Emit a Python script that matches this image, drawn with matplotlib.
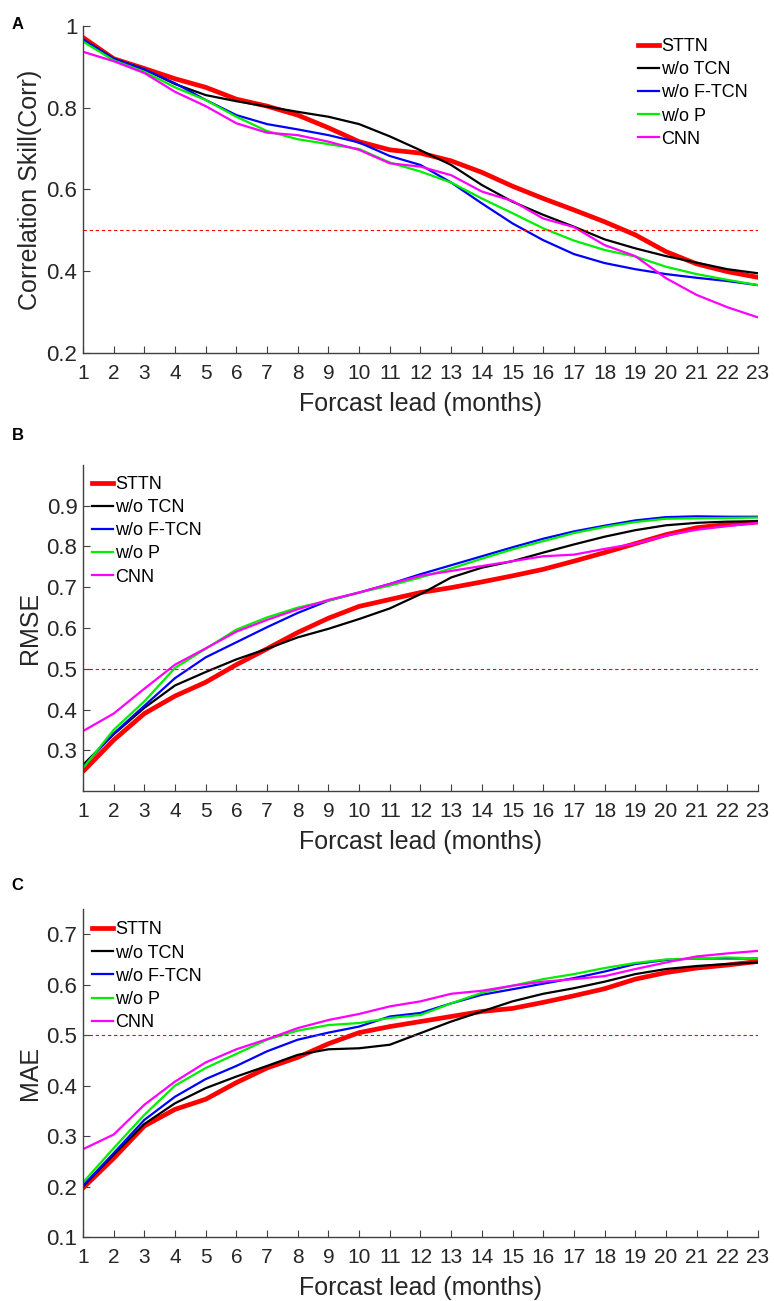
import matplotlib
matplotlib.use("Agg")
import matplotlib.pyplot as plt
import numpy as np

plt.rcParams['font.family'] = ['Liberation Sans', 'DejaVu Sans']

# forecast lead (months)
leads = list(range(1, 24))
names = ["STTN", "w/o TCN", "w/o F-TCN", "w/o P", "CNN"]
colors = ["#ff0000", "#000000", "#0000ff", "#00ee00", "#ff00ff"]
widths = [3.4, 1.6, 1.6, 1.6, 1.6]

# panel A: correlation skill
corr_sttn = [0.972, 0.920, 0.896, 0.871, 0.850, 0.821, 0.804, 0.782, 0.751, 0.717, 0.697,
             0.689, 0.670, 0.642, 0.608, 0.578, 0.550, 0.521, 0.489, 0.448, 0.418, 0.399, 0.385]
corr_tcn = [0.967, 0.920, 0.894, 0.858, 0.831, 0.816, 0.803, 0.790, 0.778, 0.760, 0.730,
            0.696, 0.660, 0.611, 0.570, 0.538, 0.509, 0.478, 0.456, 0.437, 0.421, 0.405, 0.395]
corr_ftcn = [0.967, 0.920, 0.894, 0.860, 0.819, 0.782, 0.760, 0.747, 0.733, 0.715, 0.682,
             0.660, 0.617, 0.566, 0.517, 0.476, 0.442, 0.420, 0.405, 0.393, 0.384, 0.376, 0.366]
corr_p = [0.962, 0.916, 0.888, 0.850, 0.819, 0.778, 0.743, 0.723, 0.711, 0.699, 0.666,
          0.644, 0.617, 0.578, 0.542, 0.505, 0.475, 0.452, 0.436, 0.411, 0.393, 0.379, 0.366]
corr_cnn = [0.937, 0.914, 0.885, 0.839, 0.804, 0.762, 0.739, 0.733, 0.717, 0.697, 0.664,
            0.656, 0.635, 0.595, 0.572, 0.529, 0.508, 0.464, 0.437, 0.383, 0.342, 0.312, 0.287]

# panel B: RMSE
rmse_sttn = [0.248, 0.325, 0.390, 0.433, 0.467, 0.510, 0.549, 0.589, 0.624, 0.653, 0.670,
             0.687, 0.699, 0.713, 0.728, 0.744, 0.764, 0.785, 0.807, 0.829, 0.846, 0.854, 0.860]
rmse_tcn = [0.264, 0.339, 0.404, 0.459, 0.492, 0.523, 0.549, 0.577, 0.598, 0.622, 0.648,
            0.683, 0.724, 0.748, 0.764, 0.785, 0.805, 0.824, 0.840, 0.852, 0.858, 0.861, 0.862]
rmse_ftcn = [0.260, 0.341, 0.409, 0.477, 0.528, 0.565, 0.602, 0.637, 0.667, 0.687, 0.708,
             0.732, 0.754, 0.776, 0.798, 0.819, 0.837, 0.851, 0.864, 0.872, 0.874, 0.873, 0.873]
rmse_p = [0.256, 0.350, 0.420, 0.502, 0.549, 0.596, 0.626, 0.650, 0.667, 0.687, 0.704,
          0.724, 0.746, 0.770, 0.793, 0.813, 0.833, 0.848, 0.860, 0.868, 0.869, 0.870, 0.871]
rmse_cnn = [0.347, 0.390, 0.451, 0.510, 0.550, 0.591, 0.620, 0.646, 0.669, 0.687, 0.708,
            0.728, 0.740, 0.752, 0.764, 0.776, 0.780, 0.794, 0.807, 0.827, 0.841, 0.850, 0.858]

# panel C: MAE
mae_sttn = [0.197, 0.256, 0.320, 0.353, 0.373, 0.406, 0.435, 0.456, 0.483, 0.505, 0.517,
            0.527, 0.537, 0.547, 0.553, 0.565, 0.578, 0.592, 0.611, 0.624, 0.633, 0.639, 0.646]
mae_tcn = [0.200, 0.263, 0.324, 0.365, 0.395, 0.418, 0.439, 0.461, 0.472, 0.474, 0.481,
           0.504, 0.527, 0.547, 0.567, 0.582, 0.593, 0.606, 0.621, 0.631, 0.637, 0.641, 0.644]
mae_ftcn = [0.202, 0.266, 0.332, 0.378, 0.413, 0.439, 0.468, 0.491, 0.505, 0.517, 0.537,
            0.544, 0.563, 0.580, 0.591, 0.602, 0.613, 0.626, 0.641, 0.649, 0.652, 0.652, 0.652]
mae_p = [0.208, 0.276, 0.342, 0.400, 0.435, 0.463, 0.491, 0.509, 0.520, 0.524, 0.534,
         0.540, 0.563, 0.584, 0.598, 0.611, 0.621, 0.633, 0.643, 0.650, 0.652, 0.654, 0.652]
mae_cnn = [0.274, 0.303, 0.362, 0.408, 0.446, 0.472, 0.492, 0.514, 0.530, 0.542, 0.557,
           0.567, 0.582, 0.588, 0.598, 0.606, 0.611, 0.617, 0.631, 0.644, 0.656, 0.662, 0.667]

panels = [
    ("A", "Correlation Skill(Corr)", [corr_sttn, corr_tcn, corr_ftcn, corr_p, corr_cnn],
     (0.2, 1.0), [0.2, 0.4, 0.6, 0.8, 1.0], ["0.2", "0.4", "0.6", "0.8", "1"], (0.822, 0.963)),
    ("B", "RMSE", [rmse_sttn, rmse_tcn, rmse_ftcn, rmse_p, rmse_cnn],
     (0.2, 1.0), [0.3, 0.4, 0.5, 0.6, 0.7, 0.8, 0.9], None, (0.013, 0.966)),
    ("C", "MAE", [mae_sttn, mae_tcn, mae_ftcn, mae_p, mae_cnn],
     (0.1, 0.75), [0.1, 0.2, 0.3, 0.4, 0.5, 0.6, 0.7], None, (0.013, 0.962)),
]

# axes boxes in figure fraction (left, bottom, width, height)
boxes = [(0.1072, 0.7287, 0.8721, 0.2513),
         (0.1072, 0.3920, 0.8721, 0.2506),
         (0.1072, 0.0492, 0.8721, 0.2521)]
letter_y = [0.9815, 0.6655, 0.3195]

fig = plt.figure(figsize=(7.74, 13.01), dpi=100)
axcol = "#404040"

for (letter, ylab, series, ylim, yt, ytl, legpos), box, ly in zip(panels, boxes, letter_y):
    ax = fig.add_axes(box)
    for vals, name, c, w in zip(series, names, colors, widths):
        ax.plot(leads, vals, color=c, lw=w, label=name)
    ax.plot([leads[0], leads[-1]], [0.5, 0.5], color="#ff0000", lw=0.8,
            linestyle=(0, (3, 2.5)))
    ax.set_xlim(1, 23)
    ax.set_ylim(*ylim)
    ax.set_xticks(leads)
    ax.set_yticks(yt)
    if ytl:
        ax.set_yticklabels(ytl)
    for s in ["top", "right"]:
        ax.spines[s].set_visible(False)
    for s in ["left", "bottom"]:
        ax.spines[s].set_color(axcol)
        ax.spines[s].set_linewidth(1.0)
    ax.tick_params(axis="both", direction="in", length=5, width=0.8, color=axcol,
                   labelcolor="#262626")
    ax.tick_params(axis="x", pad=8, labelsize=15)
    ax.tick_params(axis="y", pad=4, labelsize=16)
    ax.set_xlabel("Forcast lead (months)", fontsize=18, color="#262626", labelpad=6.5)
    ax.set_ylabel(ylab, fontsize=18, color="#262626", labelpad=3)
    leg = ax.legend(loc="upper left", bbox_to_anchor=legpos, frameon=False,
                    fontsize=13, handlelength=1.2, handletextpad=0.1,
                    labelspacing=0.34, borderpad=0, borderaxespad=0)
    fig.text(0.015, ly, letter, fontsize=12, fontweight="bold", va="center", ha="left")

fig.savefig("out.png", dpi=100)
